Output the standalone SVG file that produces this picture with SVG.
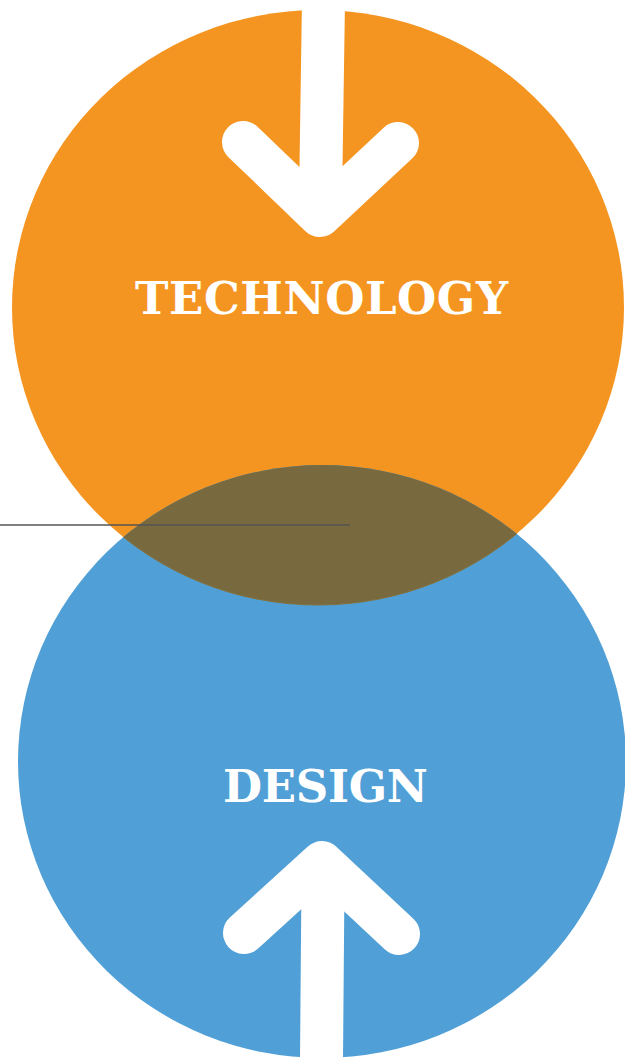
<svg xmlns="http://www.w3.org/2000/svg" width="625" height="1059" viewBox="0 0 625 1059">
  <defs>
    <style>
      .arrow { fill: none; stroke: #FFFFFF; stroke-width: 42; stroke-linecap: round; stroke-linejoin: round; }
      .shaft { fill: none; stroke: #FFFFFF; stroke-width: 43; stroke-linecap: butt; }
      .label { font-family: "DejaVu Serif", "Liberation Serif", serif; font-weight: bold; font-size: 45px; fill: #FFFFFF; text-anchor: middle; }
    </style>
    <clipPath id="blueClip">
      <ellipse cx="322" cy="761.5" rx="304" ry="296.5"/>
    </clipPath>
  </defs>
  <rect width="625" height="1059" fill="#FFFFFF"/>

  <g id="node-technology">
    <ellipse cx="318" cy="307.5" rx="306" ry="297.5" fill="#F59521"/>
  </g>

  <g id="node-design">
    <ellipse cx="322" cy="761.5" rx="304" ry="296.5" fill="#509FD6"/>
  </g>

  <g id="overlap">
    <ellipse cx="318" cy="307.5" rx="306" ry="297.5" fill="#786A3E" stroke="#85703A" stroke-width="1" clip-path="url(#blueClip)"/>
  </g>

  <g id="technology-arrow">
    <line class="shaft" x1="323.5" y1="0" x2="320.5" y2="200"/>
    <polyline class="arrow" points="243,142 320,216 398,143"/>
    <text class="label" x="321.5" y="314" textLength="373" lengthAdjust="spacing">TECHNOLOGY</text>
  </g>

  <g id="design-arrow">
    <line class="shaft" x1="321.5" y1="1059" x2="323" y2="880"/>
    <polyline class="arrow" points="244,933 322,862 399,934"/>
    <text class="label" x="325.5" y="802" textLength="205" lengthAdjust="spacing">DESIGN</text>
  </g>

  <g id="connectors">
    <line x1="0" y1="525" x2="350" y2="525" stroke="#555555" stroke-width="1.6"/>
  </g>
</svg>
